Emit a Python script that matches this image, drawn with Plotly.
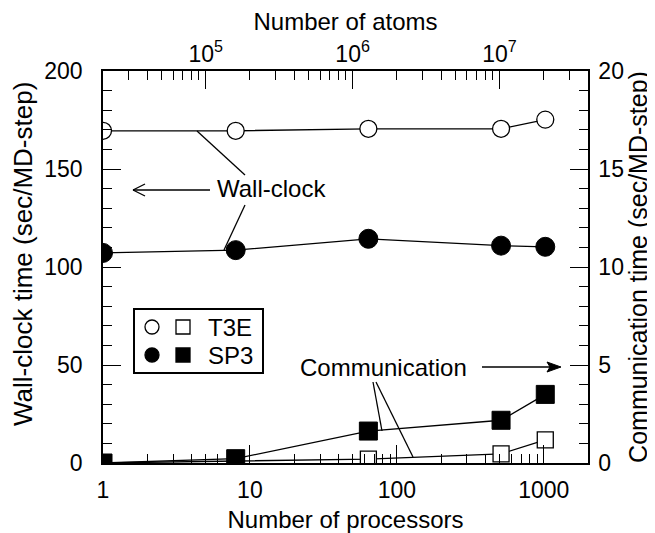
import math
import plotly.graph_objects as go

# ---------------- data ----------------
processors = [1, 8, 64, 512, 1024]
t3e_wall = [169.5, 169.5, 170.5, 170.5, 175.2]
sp3_wall = [107.2, 108.6, 114.4, 110.9, 110.3]
t3e_comm = [0.0, 0.1, 0.2, 0.47, 1.18]
sp3_comm = [0.0, 0.22, 1.63, 2.18, 3.5]

x_tickvals = [1, 10, 100, 1000]
x_ticktext = ["1", "10", "100", "1000"]
atom_tickvals = [1e5, 1e6, 1e7]
atom_ticktext = ["10<sup>5</sup>", "10<sup>6</sup>", "10<sup>7</sup>"]
legend_labels = ["T3E", "SP3"]

FONT = "Liberation Sans, Arial, Helvetica, sans-serif"

# page geometry: the html body adds an 8px margin, so the figure is shrunk by it
OFF = 8
PAGE_W, PAGE_H = 655, 533
W, H = PAGE_W - OFF, PAGE_H - OFF
# plot-area edges in page pixels
L, R, T, B = 103, 588, 71, 463


def px(x):
    return (x - L) / (R - L)


def py(y):
    return (B - y) / (B - T)


fig = go.Figure()

line_style = dict(color="black", width=1.3)

fig.add_trace(go.Scatter(
    x=processors, y=t3e_wall, mode="lines+markers", name="T3E wall-clock",
    line=line_style,
    marker=dict(symbol="circle", size=17, color="white", line=dict(color="black", width=1.3)),
))
fig.add_trace(go.Scatter(
    x=processors, y=sp3_wall, mode="lines+markers", name="SP3 wall-clock",
    line=line_style,
    marker=dict(symbol="circle", size=19, color="black", line=dict(color="black", width=1)),
))
fig.add_trace(go.Scatter(
    x=processors, y=t3e_comm, mode="lines+markers", name="T3E communication",
    yaxis="y2", line=line_style,
    marker=dict(symbol="square", size=16, color="white", line=dict(color="black", width=1.3)),
))
fig.add_trace(go.Scatter(
    x=processors, y=sp3_comm, mode="lines+markers", name="SP3 communication",
    yaxis="y2", line=line_style,
    marker=dict(symbol="square", size=18, color="black", line=dict(color="black", width=1)),
))
# empty trace so the top (number of atoms) axis is drawn
fig.add_trace(go.Scatter(x=[], y=[], xaxis="x2", yaxis="y", showlegend=False, hoverinfo="skip"))

minor_x = [m * 10 ** k for k in range(0, 4) for m in range(2, 10) if m * 10 ** k < 2000]
minor_atoms = [m * 10 ** k for k in range(4, 8) for m in range(2, 10) if 2e4 < m * 10 ** k < 4e7]

axis_common = dict(
    showline=True, linecolor="black", linewidth=1.5, showgrid=False, zeroline=False,
    ticks="inside", ticklen=18, tickwidth=1.3, tickcolor="black", automargin=False,
    tickfont=dict(family=FONT, size=23, color="black"),
)

fig.update_layout(
    width=W, height=H,
    margin=dict(l=L - OFF, r=PAGE_W - R, t=T - OFF, b=PAGE_H - B, pad=0, autoexpand=False),
    paper_bgcolor="white", plot_bgcolor="white",
    font=dict(family=FONT, size=22, color="black"),
    showlegend=False,
    xaxis=dict(
        type="log", range=[0, math.log10(2000)],
        tickvals=x_tickvals, ticktext=x_ticktext,
        minor=dict(tickvals=minor_x, ticks="inside", ticklen=9, tickwidth=1.3, tickcolor="black"),
        title=dict(text="Number of processors", font=dict(family=FONT, size=24), standoff=10),
        ticklabelstandoff=6,
        **axis_common,
    ),
    xaxis2=dict(
        type="log", range=[math.log10(2e4), math.log10(4e7)], overlaying="x", side="top", anchor="y",
        tickvals=atom_tickvals, ticktext=atom_ticktext,
        minor=dict(tickvals=minor_atoms, ticks="inside", ticklen=9, tickwidth=1.3, tickcolor="black"),
        title=dict(text="Number of atoms", font=dict(family=FONT, size=24), standoff=6),
        ticklabelstandoff=-2,
        **axis_common,
    ),
    yaxis=dict(
        range=[0, 200], tickvals=[0, 50, 100, 150, 200],
        minor=dict(dtick=10, ticks="inside", ticklen=9, tickwidth=1.3, tickcolor="black"),
        ticklabelstandoff=14,
        **axis_common,
    ),
    yaxis2=dict(
        range=[0, 20], tickvals=[0, 5, 10, 15, 20], overlaying="y", side="right", anchor="x",
        minor=dict(dtick=1, ticks="inside", ticklen=9, tickwidth=1.3, tickcolor="black"),
        title=dict(text="Communication time (sec/MD-step)", font=dict(family=FONT, size=25), standoff=5),
        ticklabelstandoff=4,
        **axis_common,
    ),
)

shapes = []


def seg(x0, y0, x1, y1, w=1.3):
    shapes.append(dict(type="line", xref="paper", yref="paper",
                       x0=px(x0), y0=py(y0), x1=px(x1), y1=py(y1),
                       line=dict(color="black", width=w)))


# Wall-clock leader lines and arrow
seg(197, 131, 245, 175)
seg(245, 205, 224, 250)
seg(210, 190, 133, 190)
seg(133, 190, 145, 184)
seg(133, 190, 145, 196)
# Communication leader lines and arrow
seg(373, 382, 382, 431)
seg(376, 382, 413, 457)
seg(482, 367, 552, 367)
shapes.append(dict(type="path", xref="paper", yref="paper",
                   path=f"M {px(561)} {py(367)} L {px(547)} {py(362)} L {px(550)} {py(367)} L {px(547)} {py(372)} Z",
                   fillcolor="black", line=dict(color="black", width=1)))

# legend box (drawn like the original: two symbols per system)
shapes.append(dict(type="rect", xref="paper", yref="paper",
                   x0=px(134), x1=px(263), y0=py(373), y1=py(309),
                   fillcolor="white", line=dict(color="black", width=2)))
for cy, fill in [(327, "white"), (355, "black")]:
    shapes.append(dict(type="circle", xref="paper", yref="paper",
                       x0=px(145), x1=px(159), y0=py(cy + 7), y1=py(cy - 7),
                       fillcolor=fill, line=dict(color="black", width=1.3)))
    shapes.append(dict(type="rect", xref="paper", yref="paper",
                       x0=px(176), x1=px(190), y0=py(cy + 7), y1=py(cy - 7),
                       fillcolor=fill, line=dict(color="black", width=1.3)))

fig.update_layout(shapes=shapes)

for label, cy in zip(legend_labels, [327, 355]):
    fig.add_annotation(text=label, x=px(206), y=py(cy), xref="paper", yref="paper",
                       showarrow=False, xanchor="left", yanchor="middle",
                       font=dict(family=FONT, size=24, color="black"))

fig.add_annotation(text="Wall-clock", x=px(271), y=py(189), xref="paper", yref="paper",
                   showarrow=False, xanchor="center", yanchor="middle",
                   font=dict(family=FONT, size=24, color="black"))
fig.add_annotation(text="Communication", x=px(383), y=py(367), xref="paper", yref="paper",
                   showarrow=False, xanchor="center", yanchor="middle",
                   font=dict(family=FONT, size=24, color="black"))
fig.add_annotation(text="Wall-clock time (sec/MD-step)", x=px(23), y=py(254), xref="paper", yref="paper",
                   showarrow=False, xanchor="center", yanchor="middle", textangle=-90,
                   font=dict(family=FONT, size=26, color="black"))

fig.write_html("out.html")
